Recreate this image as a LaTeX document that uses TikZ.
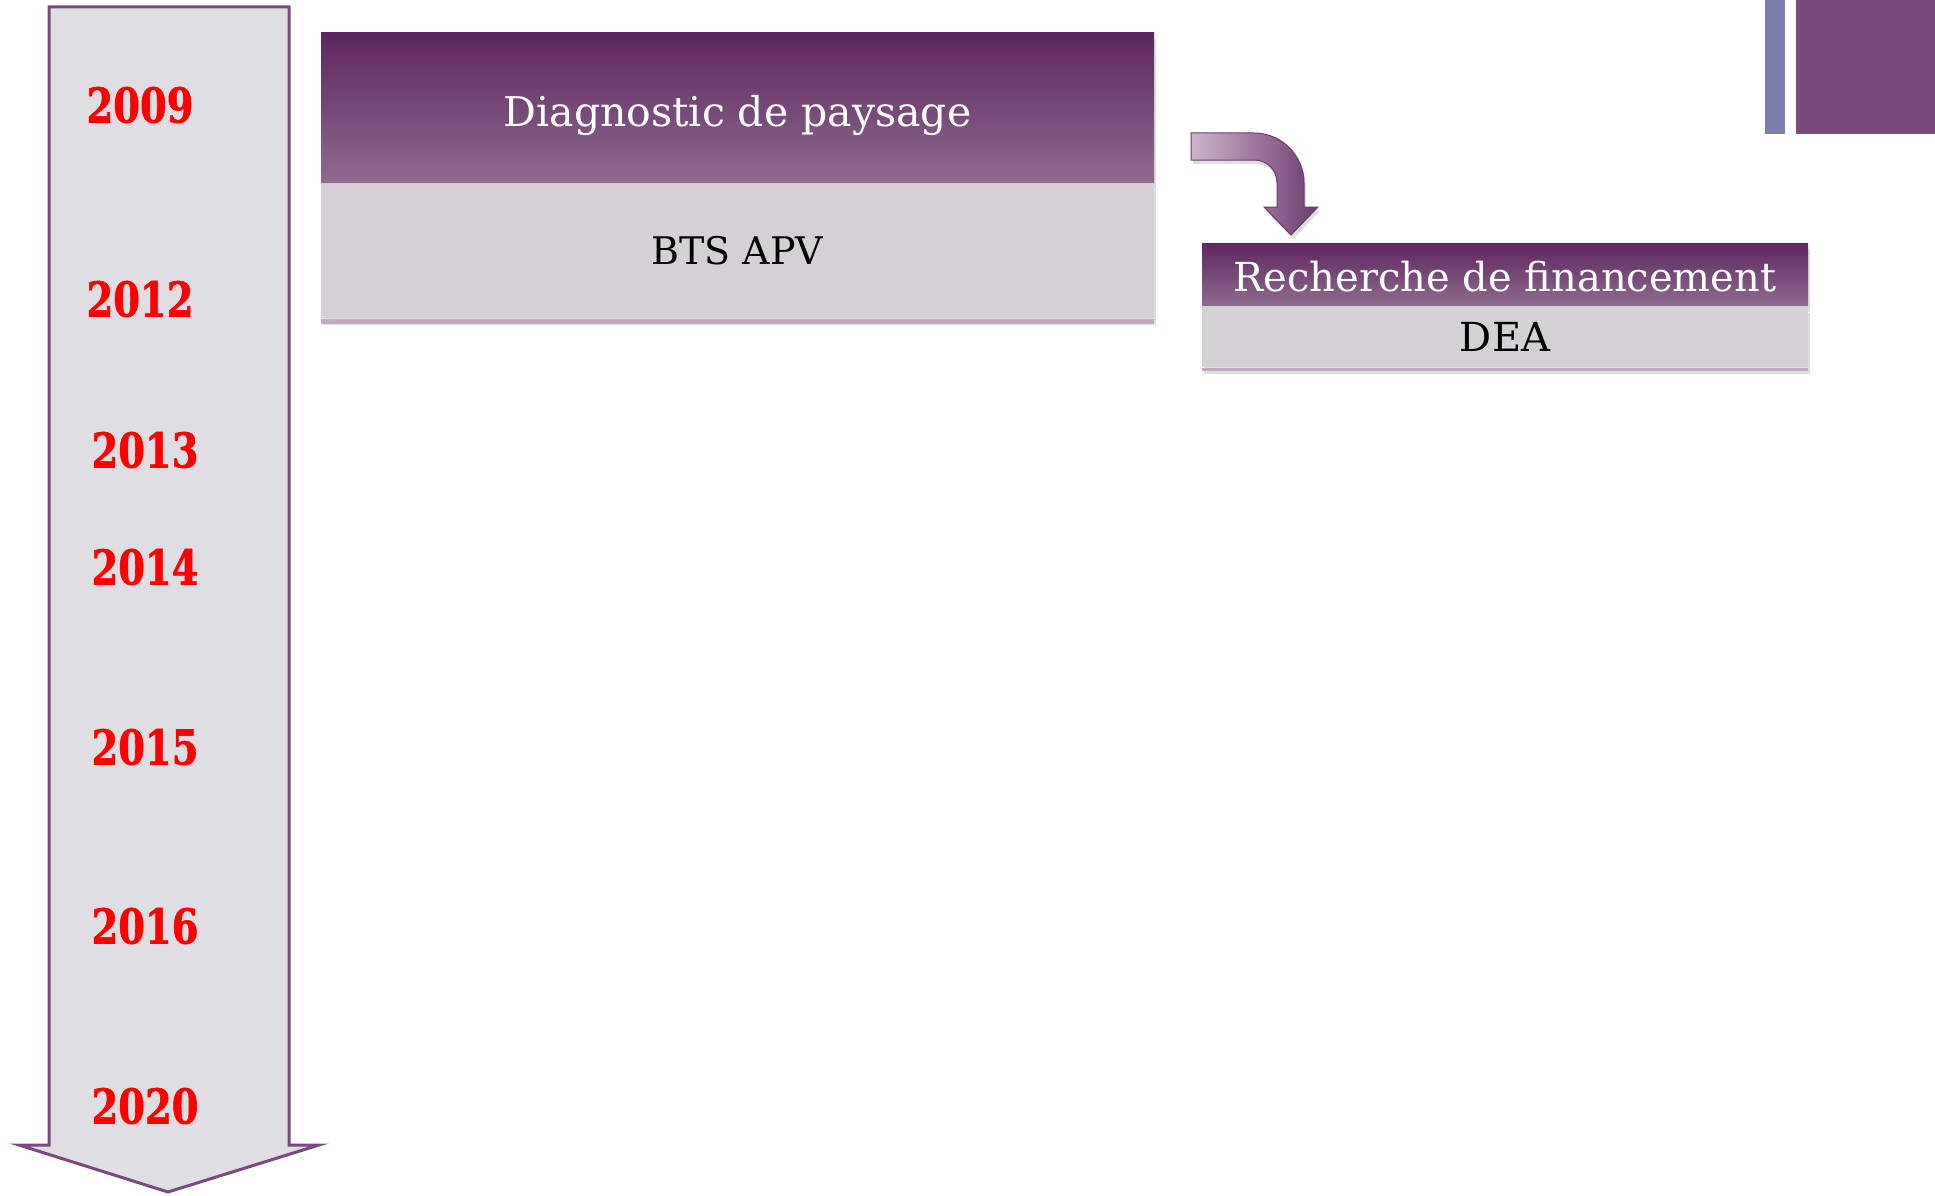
\documentclass[tikz,border=0pt]{standalone}
\usepackage{fontspec}
\setmainfont{DejaVu Serif}
\newfontfamily\yearfont[FakeStretch=0.8,FakeBold=1.2]{DejaVu Serif}
\usetikzlibrary{positioning,shadows}

\definecolor{timegray}{HTML}{DFDEE2}
\definecolor{lineviolet}{HTML}{7A4A7E}
\definecolor{headtop}{HTML}{5E2660}
\definecolor{headbottom}{HTML}{8F6B90}
\definecolor{bodygray}{HTML}{D5CFD6}
\definecolor{stripviolet}{HTML}{C2A8C3}
\definecolor{barblue}{HTML}{7B7EAA}
\definecolor{barviolet}{HTML}{7A4979}
\definecolor{arrowlight}{HTML}{CDB5CC}
\definecolor{arrowdark}{HTML}{6E3A70}

\tikzset{
  year/.style={font=\yearfont\bfseries\fontsize{48}{48}\selectfont, text=red},
  headbox/.style={rectangle, inner sep=0pt, text=white, top color=headtop, bottom color=headbottom,
    drop shadow={opacity=0.25, shadow xshift=2pt, shadow yshift=-6pt}},
  bodybox/.style={rectangle, inner sep=0pt, text=black, fill=bodygray,
    drop shadow={opacity=0.25, shadow xshift=2pt, shadow yshift=-7pt}},
}

\begin{document}
\begin{tikzpicture}[x=1pt,y=-1pt]
\useasboundingbox (0,0) rectangle (1935,1196);

% time line
\draw[line width=3pt, draw=lineviolet, fill=timegray]
  (49,7) -- (289,7) -- (289,1145) -- (319,1145) -- (168,1192) -- (19,1145) -- (49,1145) -- cycle;

\node[year] (y2009) at (140,105) {2009};
\node[year] (y2012) at (140,299) {2012};
\node[year] (y2013) at (145,450) {2013};
\node[year] (y2014) at (145,567) {2014};
\node[year] (y2015) at (145,747) {2015};
\node[year] (y2016) at (145,926) {2016};
\node[year] (y2020) at (145,1106) {2020};

% first block
\node[headbox, minimum width=833pt, minimum height=150pt, font=\fontsize{41}{41}\selectfont]
  (diag) at (737.5,108) {\raisebox{-19pt}[0pt][0pt]{Diagnostic de paysage}};
\node[bodybox, minimum width=833pt, minimum height=135pt, font=\fontsize{38}{38}\selectfont,
  below=0pt of diag] (bts) {BTS APV};
\fill[stripviolet] (bts.south west) rectangle ([yshift=-5pt]bts.south east);

% second block
\node[headbox, minimum width=606pt, minimum height=63pt, font=\fontsize{40}{40}\selectfont]
  (finance) at (1505,274.5) {\raisebox{-17pt}[0pt][0pt]{Recherche de financement}};
\node[bodybox, minimum width=606pt, minimum height=61pt, font=\fontsize{40}{40}\selectfont,
  below=0pt of finance] (dea) {DEA};
\fill[stripviolet] (dea.south west) rectangle ([yshift=-3pt]dea.south east);

% bent arrow
\draw[draw=arrowdark, line width=1pt, left color=arrowlight, right color=arrowdark,
  drop shadow={opacity=0.25, shadow xshift=2pt, shadow yshift=-4pt}]
  (1191,133) -- (1254,133) .. controls (1282,133) and (1304,156) .. (1304,183)
  -- (1304,207) -- (1318,207) -- (1291,235) -- (1264,207) -- (1277,207) -- (1277,183)
  .. controls (1277,170) and (1267,160) .. (1254,160) -- (1191,160) -- cycle;

% corner bars
\fill[barblue] (1765,0) rectangle (1785,134);
\fill[barviolet] (1796,0) rectangle (1935,134);

\end{tikzpicture}
\end{document}
